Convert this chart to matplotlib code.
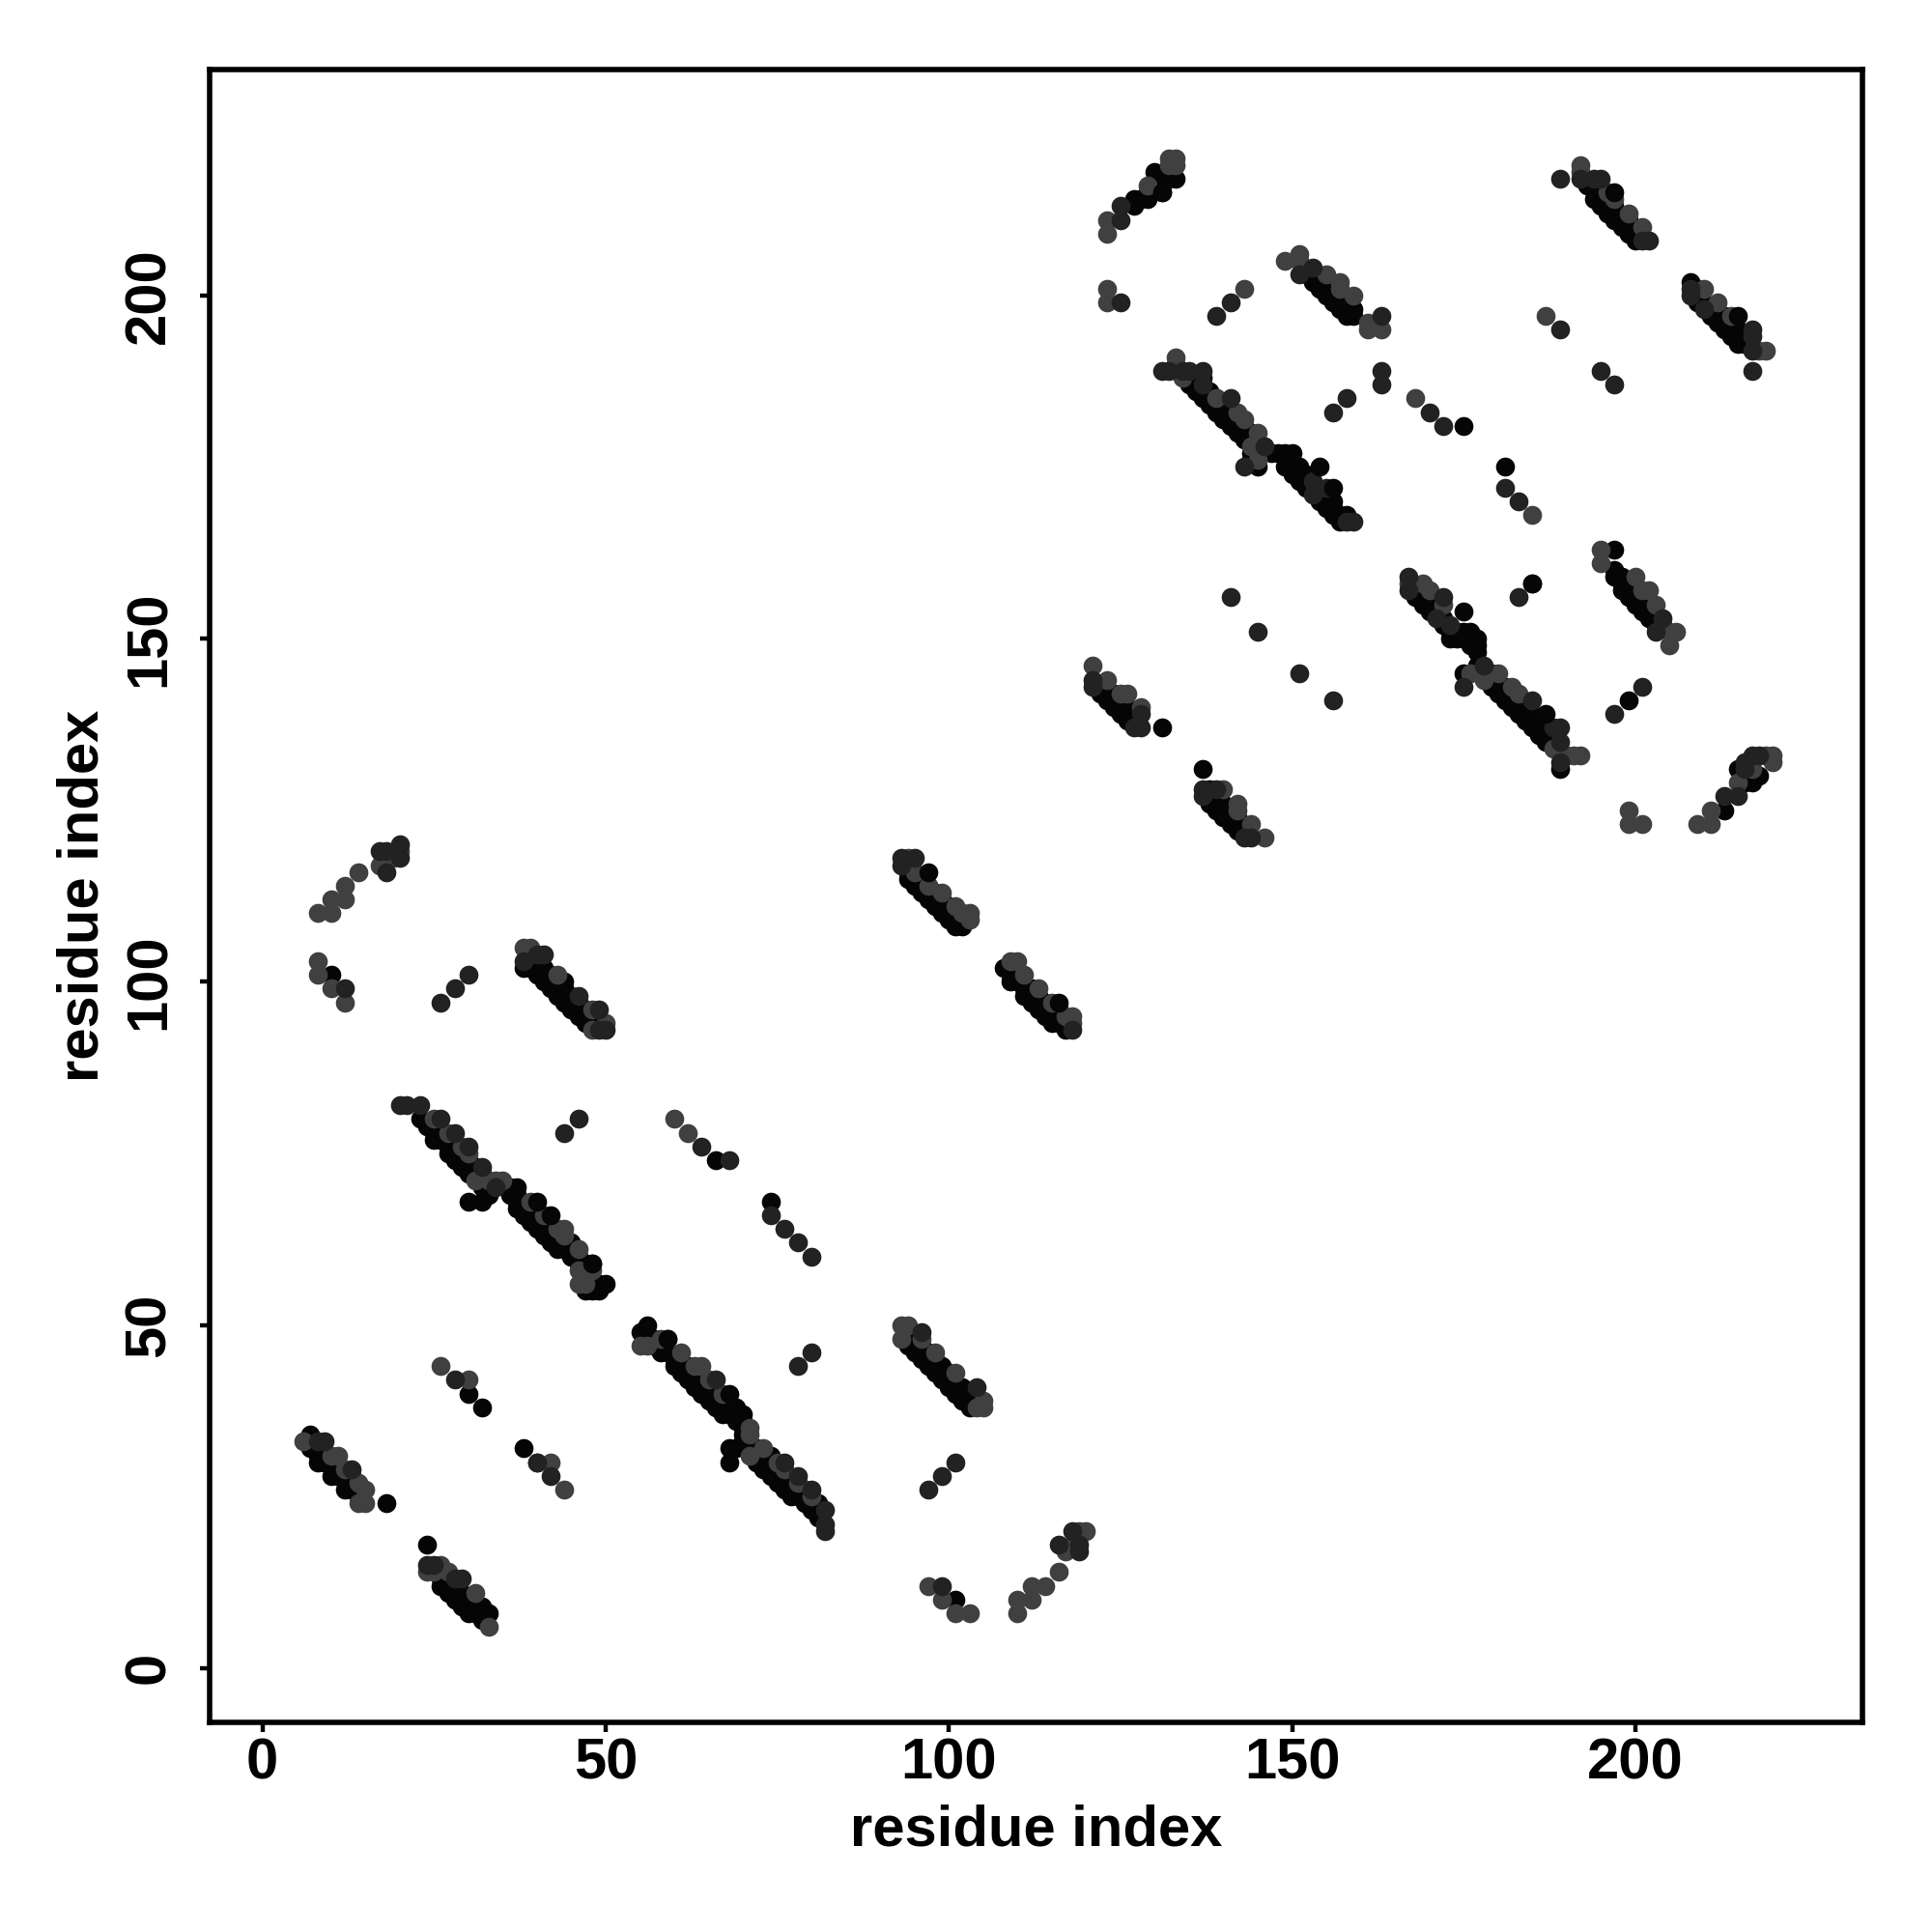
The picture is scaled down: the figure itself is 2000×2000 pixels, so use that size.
import matplotlib
matplotlib.use('Agg')
import matplotlib.pyplot as plt

# contacts by shade
black = [(7,34),(7,32),(8,32),(8,30),(9,31),(10,28),(11,29),(12,26),(13,27),(14,25),(18,24),
         (24,18),(26,12),(27,13),(28,10),(29,11),(30,8),(31,9),(32,7),(33,8),
         (30,40),(32,38),(38,32),(40,30),
         (23,80),(25,77),(25,78),(27,75),(28,76),(29,73),(31,73),(30,74),(32,70),(33,69),(36,70),(37,70),(37,67),(37,68),
         (30,68),(32,68),(39,65),(40,66),(41,63),(42,64),(43,61),(44,61),(45,62),(46,59),(47,55),(48,59),(49,55),(49,56),(50,56),(48,55),
         (66,74),(74,68),
         (56,50),(55,49),(56,48),(59,48),(58,46),(59,46),(61,43),(62,44),(63,41),(64,42),(65,39),(66,40),(67,37),(68,37),(69,38),(70,37),
         (70,35),(70,34),(68,32),(69,32),(68,30),(72,32),(73,29),(73,30),(74,31),(75,27),(76,28),(77,25),(78,25),(79,26),(80,23),(81,24),
         (95,46),(96,47),(97,44),(99,44),(99,42),(100,43),(101,40),(102,41),(103,38),(103,39),
         (101,10),
         (38,102),(40,101),(41,102),(42,99),(43,100),(44,99),(44,97),(45,98),(46,95),(47,96),(48,94),(10,101),
         (94,115),(95,114),(96,113),(97,114),(98,111),(99,112),(100,109),(101,110),(102,108),
         (108,102),(109,100),(110,101),(111,98),(112,99),(113,96),(114,97),(115,94),(116,95),(117,93),
         (123,141),(124,142),(125,139),(126,140),(127,138),
         (131,137),(137,131),(138,128),(139,125),(140,126),(141,123),(142,124),
         (127,213),(129,214),(130,216),(130,218),(131,215),(132,217),(133,217),(131,217),
         (136,186),(137,188),(138,184),(139,185),(140,182),(141,183),(142,180),(143,181),(144,179),(145,177),(145,175),
         (147,177),(148,177),(149,177),(150,177),(150,174),(151,175),(152,174),(151,173),(153,172),(155,169),(156,170),(157,167),(158,168),
         (154,201),(155,202),(156,199),(157,200),(158,197),(159,197),(159,198),(175,181),(181,175),
         (169,155),(170,156),(174,151),(175,151),(174,150),(175,150),(176,149),(177,150),(177,149),(177,148),(175,145),(177,146),(179,145),
         (180,142),(181,143),(182,140),(183,141),(184,138),(185,139),(186,136),(187,137),(189,131),(185,158),
         (194,214),(194,216),(195,215),(196,212),(197,213),(198,210),(199,211),(200,208),(199,209),
         (197,163),(197,159),(198,159),(199,156),(200,157),(201,154),(202,155),(197,160),(199,141),
         (208,202),(209,200),(210,199),(212,196),(213,197),(214,194),(215,194),(215,195),(216,193),
         (213,125),(215,131),(218,130)]

# black between the two edges of each stripe
fill = [(8,31),(9,30),(10,30),(11,28),(12,28),(13,26),(14,26),(13,28),
        (26,13),(27,11),(28,12),(29,9),(30,10),(31,8),(32,9),
        (24,79),(25,79),(26,77),(26,78),(27,76),(28,75),(28,74),(29,75),(30,73),(30,72),(31,72),(32,71),(32,72),
        (36,69),(37,69),(38,67),(38,66),(39,67),(40,65),(40,64),(41,65),(42,63),(42,62),(43,63),(44,62),(45,60),(46,60),(47,58),(47,57),(47,59),
        (57,47),(57,48),(58,47),(60,45),(60,44),(61,44),(62,43),(62,42),(63,43),(64,40),(65,41),(66,38),(67,39),(68,38),(69,36),(70,36),
        (70,33),(71,32),(72,30),(72,31),(73,31),(74,29),(74,28),(75,29),(76,26),(77,27),(78,26),(79,24),(79,25),(80,24),(81,22),
        (94,48),(94,47),(95,48),(96,45),(97,46),(98,43),(98,45),(100,41),(100,42),(102,39),(102,40),(103,40),
        (39,102),(40,103),(41,100),(42,101),(43,98),(44,100),(45,96),(46,97),(47,94),(47,95),(48,95),(49,94),(39,103),
        (94,116),(95,115),(96,114),(96,115),(97,112),(98,113),(99,110),(100,111),(101,108),(102,109),
        (109,101),(110,100),(111,99),(112,97),(113,98),(114,95),(114,96),(115,95),(116,94),(116,96),
        (122,142),(122,143),(124,140),(125,141),(126,138),(126,139),(127,139),
        (138,126),(139,127),(140,124),(141,125),(142,122),(143,122),(138,127),
        (135,187),(136,188),(137,185),(138,186),(139,183),(140,184),(141,181),(142,181),(143,179),(144,180),(144,176),(144,177),
        (149,175),(150,175),(152,172),(152,173),(154,170),(154,171),(155,170),(156,168),(156,169),(157,168),
        (168,156),(168,157),(170,154),(170,155),(171,154),(172,152),(172,153),(173,151),(173,150),(176,150),(176,151),
        (179,143),(180,143),(181,141),(182,141),(183,139),(184,140),(185,137),(186,138),(187,135),(188,135),(188,136),
        (153,202),(155,200),(156,200),(157,198),(158,199),(152,203),
        (193,216),(195,214),(195,213),(197,211),(196,213),(198,211),(199,209),
        (209,199),(209,201),(211,197),(211,198),(213,195),(213,196),(215,193),(216,194),
        (198,157),(198,158),(200,155),(200,156),(202,153),(202,154),(203,152),(204,152),
        (129,215),(128,214),(131,216),(127,214),
        (216,130),(217,130),(216,129),(217,129)]

mid = [(6,33),(10,31),(11,31),(12,29),(14,27),(15,26),(14,24),(15,24),
       (24,14),(25,14),(26,15),(27,14),(31,11),(33,6),(26,44),(30,42),(42,30),(44,26),
       (25,80),(27,78),(29,76),(30,75),(31,71),(33,71),(34,71),(35,71),(39,68),(41,66),(43,64),(44,64),(44,63),(46,61),(46,58),(48,58),(47,56),(46,56),
       (60,80),(62,78),
       (55,47),(56,47),(58,48),(61,46),(63,44),(64,44),(65,42),(67,40),(71,35),(71,34),(71,31),(73,32),(75,30),(78,27),(80,25),(76,29),
       (93,50),(94,50),(93,48),(96,48),(98,46),(101,43),(105,39),(105,38),(104,38),
       (97,12),(99,10),(101,8),(103,8),(110,8),(112,10),(112,12),(114,12),(116,14),(117,17),(118,18),(119,20),(120,20),(110,10),
       (8,110),(10,110),(10,112),(12,112),(12,114),(14,116),(17,117),(19,118),(20,119),
       (8,103),(8,101),(10,99),(12,97),
       (38,105),(39,105),(43,101),(48,96),(48,93),(50,94),
       (94,118),(95,116),(97,114),(99,113),(101,111),(102,110),(103,110),(103,109),
       (109,103),(110,103),(111,101),(113,99),(115,97),(117,95),(118,95),(118,94),
       (121,146),(123,144),(125,142),(126,142),(128,140),
       (140,128),(142,126),(142,125),(144,123),(146,121),
       (123,211),(123,209),(129,216),(132,220),(133,220),(132,219),(133,219),
       (123,201),(123,199),
       (133,191),(133,190),(134,188),(139,185),(142,183),(143,182),(145,180),(144,178),(145,176),
       (143,201),(149,205),(151,206),(151,205),(155,203),(157,202),(157,201),(159,200),(161,196),(161,195),(163,195),
       (168,185),(185,168),(187,197),
       (167,158),(169,158),(170,157),(172,155),(176,145),(178,144),(180,145),(182,143),(183,142),(188,134),(190,133),(191,133),(192,133),
       (192,219),(192,218),(196,215),(197,214),(199,212),(201,210),
       (195,163),(195,161),(200,159),(201,157),(202,157),(203,155),(205,151),(206,151),(205,149),
       (210,201),(212,199),(214,197),(218,192),(219,192),
       (199,125),(199,123),(201,123),(209,123),(211,123),(211,125),(215,129),(217,131),(219,133),(220,133),(220,132)]

dark = [(9,33),(8,33),(13,29),(24,15),(25,15),(28,13),(29,13),(28,42),(40,30),(42,28),
        (20,82),(21,82),(23,82),(26,80),(28,78),(30,76),(32,73),(34,70),(44,78),(46,80),(64,76),(68,74),
        (74,66),(76,64),(78,62),(80,60),(78,44),(80,46),
        (76,30),(78,28),(80,26),(82,23),(82,21),(82,20),(66,42),
        (96,49),(104,41),(97,26),(99,28),(101,30),
        (99,12),(116,18),(119,17),(119,18),(118,20),
        (17,119),(18,119),(18,116),(20,120),(20,118),(26,97),(28,99),(30,101),(12,99),
        (38,103),(40,104),(41,104),(46,98),(49,96),(50,93),(49,93),
        (93,118),(93,117),(95,118),(118,93),
        (121,144),(121,143),(128,139),(127,137),(128,137),
        (137,128),(137,127),(139,128),(143,121),(144,121),
        (125,211),(125,213),(125,199),
        (131,189),(132,189),(134,189),(135,189),(137,189),(137,187),(141,185),(146,178),(143,175),(153,173),(153,171),(155,172),(158,167),(159,167),
        (139,197),(141,199),(156,183),(158,185),(163,189),(163,187),(163,197),(170,183),(172,181),(181,172),(183,170),
        (151,203),(153,204),
        (167,159),(167,157),(172,156),(171,153),(173,152),(175,143),(178,146),(185,141),(188,137),(189,137),(189,135),(189,132),(183,156),
        (141,156),(145,151),(151,145),(156,141),
        (197,139),(201,143),(204,153),(203,151),
        (189,217),(192,217),(194,217),(195,217),(201,208),(202,208),
        (208,201),(208,200),(210,198),(217,195),(217,194),(217,192),(217,189),(189,195),(195,189),(197,187),
        (213,127),(215,127),(217,133),(218,133),(216,132),(216,131)]

# black contacts that sit on top of the others
top = [(40,68),(42,66),(48,59),(68,40),(59,48),(116,97),(97,116),(175,154),(187,139),(156,172),(154,175),(197,215),(215,197),(185,158),(131,215)]

fig = plt.figure(figsize=(10, 10), dpi=200)
ax = fig.add_axes([217/2000, 217/2000, 1711/2000, 1711/2000])

layers = [(black + fill, '#050505'), (mid, '#404040'), (dark, '#222222'), (top, '#060606')]
for pts, col in layers:
    ax.scatter([p[0] for p in pts], [p[1] for p in pts], s=50, c=col, linewidths=0)

ax.set_xlim(-7.7, 233.1)
ax.set_ylim(-7.9, 232.9)
ax.set_xticks([0, 50, 100, 150, 200])
ax.set_yticks([0, 50, 100, 150, 200])
font = dict(family='Liberation Sans', fontweight='bold')
ax.set_xticklabels(['0', '50', '100', '150', '200'], fontsize=21.5, **font)
ax.set_yticklabels(['0', '50', '100', '150', '200'], fontsize=21.5, rotation=90, va='center', **font)
ax.tick_params(width=1.6, length=3.5)
ax.tick_params(axis='x', pad=2)
ax.tick_params(axis='y', pad=9)
ax.set_xlabel('residue index', fontsize=21.5, labelpad=5, **font)
ax.set_ylabel('residue index', fontsize=21.5, labelpad=5, **font)
for s in ax.spines.values():
    s.set_linewidth(2)

fig.savefig('out.png', dpi=200)
